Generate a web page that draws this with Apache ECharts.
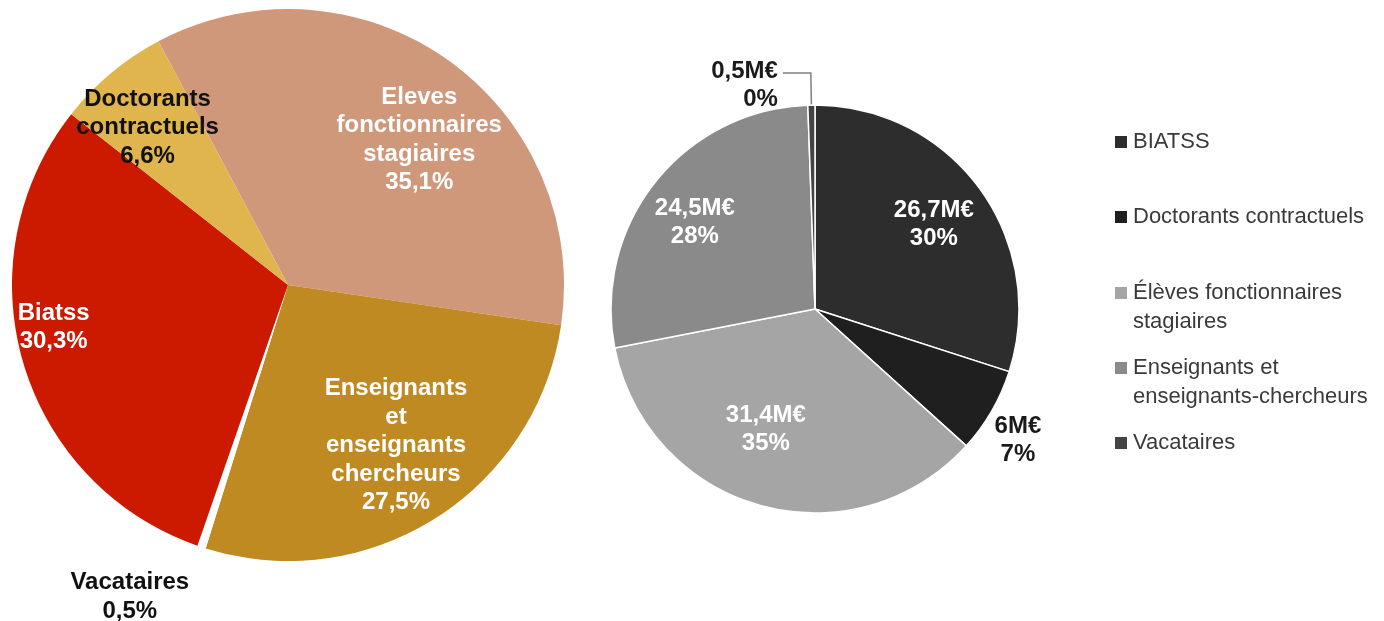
<!DOCTYPE html>
<html>
<head>
<meta charset="utf-8">
<script src="https://cdn.jsdelivr.net/npm/echarts@6/dist/echarts.min.js"></script>
<style>
  html, body { margin: 0; padding: 0; background: #ffffff; }
  #chart { width: 1384px; height: 621px; }
</style>
</head>
<body>
<div id="chart"></div>
<script>
// Masse salariale par catégorie de personnel

// Left pie: shares in %
const leftNames = ['Eleves fonctionnaires stagiaires', 'Enseignants et enseignants chercheurs', 'Vacataires', 'Biatss', 'Doctorants contractuels'];
const leftLabels = ['Eleves\nfonctionnaires\nstagiaires', 'Enseignants\net\nenseignants\nchercheurs', 'Vacataires', 'Biatss', 'Doctorants\ncontractuels'];
const leftShares = [35.1, 27.5, 0.5, 30.3, 6.6];
const leftColors = ['#D0987A', '#BF8A22', '#FFFFFF', '#CC1A00', '#E0B54E'];

// Right pie: amounts in M€ and displayed shares in %
const rightNames = ['BIATSS', 'Doctorants contractuels', 'Élèves fonctionnaires stagiaires', 'Enseignants et enseignants-chercheurs', 'Vacataires'];
const rightValues = [26.7, 6, 31.4, 24.5, 0.5];
const rightShares = [30, 7, 35, 28, 0];
const rightColors = ['#2D2D2D', '#1F1F1F', '#A5A5A5', '#8A8A8A', '#444444'];

// Legend text, wrapped as displayed
const legendText = ['BIATSS', 'Doctorants contractuels', 'Élèves fonctionnaires\nstagiaires', 'Enseignants et\nenseignants-chercheurs', 'Vacataires'];

const FONT = '"Liberation Sans", Arial, sans-serif';
const fmtNum = v => String(v).replace('.', ',');

// label nudges from the default label position (dx, dy)
const leftNudge = [[50, -30], [33, 41], [-114, 178], [-99, 3], [-50, -49]];
const rightNudge = [[34, -23], [112, 79], [-21, 19], [-38, -21], [0, 12]];

const LEG_LH = 29;
const legendCenters = [142, 217, 293, 368, 443];

// each legend entry is placed on its own so that the marker sits on the first text line
const legends = rightNames.map((name, i) => {
  const twoLines = legendText[i].indexOf('\n') >= 0;
  return {
    orient: 'vertical',
    left: 1113,
    top: legendCenters[i] - (twoLines ? 1.5 * LEG_LH : LEG_LH / 2),
    padding: 0,
    itemWidth: 14,
    itemHeight: 14,
    icon: 'rect',
    selectedMode: false,
    // a blank leading line keeps the marker centred on the first line of wrapped names
    formatter: () => (twoLines ? ' \n' : '') + legendText[i],
    textStyle: {
      fontFamily: FONT,
      fontSize: 22,
      color: '#3A3A3A',
      lineHeight: LEG_LH
    },
    data: [name]
  };
});

const option = {
  animation: false,
  backgroundColor: '#ffffff',
  legend: legends,
  series: [
    {
      name: 'Montants',
      type: 'pie',
      center: [815, 309],
      radius: [0, 204],
      startAngle: 90,
      clockwise: true,
      avoidLabelOverlap: false,
      itemStyle: { borderColor: '#FFFFFF', borderWidth: 1.5 },
      label: {
        show: true,
        position: 'inside',
        fontFamily: FONT,
        fontSize: 24,
        fontWeight: 'bold',
        lineHeight: 28,
        color: '#FFFFFF',
        formatter: p => fmtNum(p.value) + 'M€\n' + rightShares[p.dataIndex] + '%'
      },
      labelLayout: p => {
        const n = rightNudge[p.dataIndex];
        return { dx: n[0], dy: n[1] };
      },
      data: rightNames.map((name, i) => {
        const item = { name, value: rightValues[i], itemStyle: { color: rightColors[i] } };
        if (i === 1) item.label = { color: '#1A1A1A' };
        if (i === 4) {
          item.label = {
            position: 'outside',
            color: '#1A1A1A',
            distanceToLabelLine: 5
          };
          item.labelLine = {
            show: true,
            length: 32,
            length2: 28,
            lineStyle: { color: '#7F7F7F', width: 1.5 }
          };
        }
        return item;
      })
    },
    {
      name: 'Répartition',
      type: 'pie',
      center: [288, 285],
      radius: [0, 276],
      startAngle: 118,
      clockwise: true,
      avoidLabelOverlap: false,
      itemStyle: { borderWidth: 0 },
      label: {
        show: true,
        position: 'inside',
        fontFamily: FONT,
        fontSize: 24,
        fontWeight: 'bold',
        lineHeight: 28.5,
        color: '#FFFFFF',
        formatter: p => leftLabels[p.dataIndex] + '\n' + p.value.toFixed(1).replace('.', ',') + '%'
      },
      labelLayout: p => {
        const n = leftNudge[p.dataIndex];
        return { dx: n[0], dy: n[1] };
      },
      data: leftNames.map((name, i) => {
        const item = { name, value: leftShares[i], itemStyle: { color: leftColors[i] } };
        if (i === 2 || i === 4) item.label = { color: '#111111' };
        return item;
      })
    }
  ]
};

const chart = echarts.init(document.getElementById('chart'), null, { renderer: 'canvas' });
chart.setOption(option);
</script>
</body>
</html>
